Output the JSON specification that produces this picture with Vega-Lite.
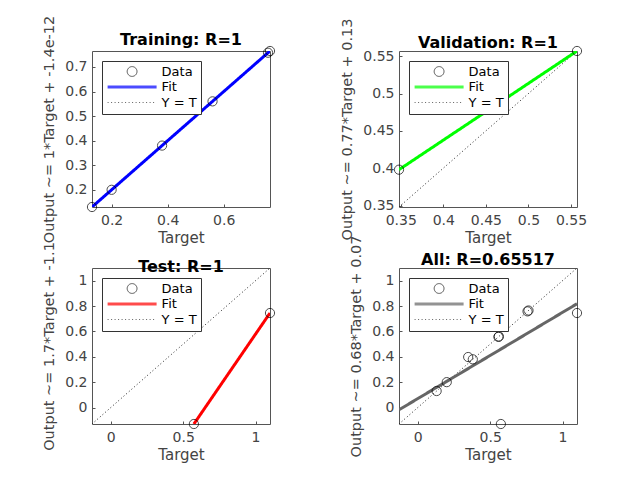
{
  "$schema": "https://vega.github.io/schema/vega-lite/v6.json",
  "background": "white",
  "padding": {"left": 41, "top": 14, "right": 5, "bottom": 5},
  "columns": 2,
  "spacing": {"row": 61, "column": 129},
  "bounds": "flush",
  "resolve": {
    "scale": {"x": "independent", "y": "independent", "color": "independent", "shape": "independent", "strokeDash": "independent", "strokeWidth": "independent"},
    "legend": {"color": "independent", "shape": "independent", "strokeDash": "independent", "strokeWidth": "independent"}
  },
  "concat": [
    {
      "width": 178, "height": 156,
      "title": "Training: R=1",
      "layer": [
        {
          "data": {"values": [
            {"series": "Y = T", "t": 0.13, "o": 0.13}, {"series": "Y = T", "t": 0.765, "o": 0.765},
            {"series": "Fit", "t": 0.13, "o": 0.13}, {"series": "Fit", "t": 0.765, "o": 0.765}
          ]},
          "mark": {"type": "line", "clip": true},
          "encoding": {
            "x": {"field": "t", "type": "quantitative", "scale": {"domain": [0.13, 0.765], "nice": false, "zero": false}, "axis": {"title": "Target", "values": [0.2, 0.4, 0.6], "tickCount": 20, "format": ".2~f", "labelOverlap": false}},
            "y": {"field": "o", "type": "quantitative", "scale": {"domain": [0.13, 0.765], "nice": false, "zero": false}, "axis": {"title": "Output ~= 1*Target + -1.4e-12", "values": [0.2, 0.3, 0.4, 0.5, 0.6, 0.7], "tickCount": 20, "format": ".2~f", "labelOverlap": false}},
            "color": {"field": "series", "type": "nominal", "scale": {"domain": ["Data", "Fit", "Y = T"], "range": ["#000000", "#0000ff", "#222222"]}, "legend": {"title": null}},
            "strokeDash": {"field": "series", "type": "nominal", "scale": {"domain": ["Data", "Fit", "Y = T"], "range": [[1, 0], [1, 0], [1, 2.5]]}, "legend": {"title": null}},
            "strokeWidth": {"field": "series", "type": "nominal", "scale": {"type": "ordinal", "domain": ["Data", "Fit", "Y = T"], "range": [1, 3, 1]}, "legend": {"title": null}}
          }
        },
        {
          "data": {"values": [
            {"series": "Data", "t": 0.13, "o": 0.13}, {"series": "Data", "t": 0.2, "o": 0.2}, {"series": "Data", "t": 0.38, "o": 0.38},
            {"series": "Data", "t": 0.56, "o": 0.56}, {"series": "Data", "t": 0.758, "o": 0.758}, {"series": "Data", "t": 0.765, "o": 0.765}
          ]},
          "mark": {"type": "point", "filled": false, "size": 85, "clip": false},
          "encoding": {
            "x": {"field": "t", "type": "quantitative"},
            "y": {"field": "o", "type": "quantitative"},
            "color": {"field": "series", "type": "nominal", "scale": {"domain": ["Data", "Fit", "Y = T"], "range": ["#000000", "#0000ff", "#222222"]}, "legend": {"title": null}},
            "shape": {"field": "series", "type": "nominal", "scale": {"domain": ["Data", "Fit", "Y = T"], "range": ["circle", "M-5,0H5", "M-5,0H5"]}, "legend": {"title": null}},
            "strokeWidth": {"field": "series", "type": "nominal", "scale": {"type": "ordinal", "domain": ["Data", "Fit", "Y = T"], "range": [1, 3, 1]}, "legend": {"title": null}}
          }
        }
      ]
    },
    {
      "width": 178, "height": 156,
      "title": "Validation: R=1",
      "layer": [
        {
          "data": {"values": [
            {"series": "Y = T", "t": 0.348, "o": 0.348}, {"series": "Y = T", "t": 0.557, "o": 0.557},
            {"series": "Fit", "t": 0.348, "o": 0.398}, {"series": "Fit", "t": 0.557, "o": 0.557}
          ]},
          "mark": {"type": "line", "clip": true},
          "encoding": {
            "x": {"field": "t", "type": "quantitative", "scale": {"domain": [0.348, 0.557], "nice": false, "zero": false}, "axis": {"title": "Target", "values": [0.35, 0.4, 0.45, 0.5, 0.55], "tickCount": 20, "format": ".2~f", "labelOverlap": false}},
            "y": {"field": "o", "type": "quantitative", "scale": {"domain": [0.348, 0.557], "nice": false, "zero": false}, "axis": {"title": "Output ~= 0.77*Target + 0.13", "values": [0.35, 0.4, 0.45, 0.5, 0.55], "tickCount": 20, "format": ".2~f", "labelOverlap": false}},
            "color": {"field": "series", "type": "nominal", "scale": {"domain": ["Data", "Fit", "Y = T"], "range": ["#000000", "#00ff00", "#222222"]}, "legend": {"title": null}},
            "strokeDash": {"field": "series", "type": "nominal", "scale": {"domain": ["Data", "Fit", "Y = T"], "range": [[1, 0], [1, 0], [1, 2.5]]}, "legend": {"title": null}},
            "strokeWidth": {"field": "series", "type": "nominal", "scale": {"type": "ordinal", "domain": ["Data", "Fit", "Y = T"], "range": [1, 3, 1]}, "legend": {"title": null}}
          }
        },
        {
          "data": {"values": [
            {"series": "Data", "t": 0.348, "o": 0.398}, {"series": "Data", "t": 0.557, "o": 0.557}
          ]},
          "mark": {"type": "point", "filled": false, "size": 85, "clip": false},
          "encoding": {
            "x": {"field": "t", "type": "quantitative"},
            "y": {"field": "o", "type": "quantitative"},
            "color": {"field": "series", "type": "nominal", "scale": {"domain": ["Data", "Fit", "Y = T"], "range": ["#000000", "#00ff00", "#222222"]}, "legend": {"title": null}},
            "shape": {"field": "series", "type": "nominal", "scale": {"domain": ["Data", "Fit", "Y = T"], "range": ["circle", "M-5,0H5", "M-5,0H5"]}, "legend": {"title": null}},
            "strokeWidth": {"field": "series", "type": "nominal", "scale": {"type": "ordinal", "domain": ["Data", "Fit", "Y = T"], "range": [1, 3, 1]}, "legend": {"title": null}}
          }
        }
      ]
    },
    {
      "width": 178, "height": 156,
      "title": "Test: R=1",
      "layer": [
        {
          "data": {"values": [
            {"series": "Y = T", "t": -0.13, "o": -0.13}, {"series": "Y = T", "t": 1.1, "o": 1.1},
            {"series": "Fit", "t": 0.574, "o": -0.13}, {"series": "Fit", "t": 1.1, "o": 0.745}
          ]},
          "mark": {"type": "line", "clip": true},
          "encoding": {
            "x": {"field": "t", "type": "quantitative", "scale": {"domain": [-0.13, 1.1], "nice": false, "zero": false}, "axis": {"title": "Target", "values": [0, 0.5, 1], "tickCount": 20, "format": ".2~f", "labelOverlap": false}},
            "y": {"field": "o", "type": "quantitative", "scale": {"domain": [-0.13, 1.1], "nice": false, "zero": false}, "axis": {"title": "Output ~= 1.7*Target + -1.1", "values": [0, 0.2, 0.4, 0.6, 0.8, 1], "tickCount": 20, "format": ".2~f", "labelOverlap": false}},
            "color": {"field": "series", "type": "nominal", "scale": {"domain": ["Data", "Fit", "Y = T"], "range": ["#000000", "#ff0000", "#222222"]}, "legend": {"title": null}},
            "strokeDash": {"field": "series", "type": "nominal", "scale": {"domain": ["Data", "Fit", "Y = T"], "range": [[1, 0], [1, 0], [1, 2.5]]}, "legend": {"title": null}},
            "strokeWidth": {"field": "series", "type": "nominal", "scale": {"type": "ordinal", "domain": ["Data", "Fit", "Y = T"], "range": [1, 3, 1]}, "legend": {"title": null}}
          }
        },
        {
          "data": {"values": [
            {"series": "Data", "t": 0.574, "o": -0.13}, {"series": "Data", "t": 1.1, "o": 0.745}
          ]},
          "mark": {"type": "point", "filled": false, "size": 85, "clip": false},
          "encoding": {
            "x": {"field": "t", "type": "quantitative"},
            "y": {"field": "o", "type": "quantitative"},
            "color": {"field": "series", "type": "nominal", "scale": {"domain": ["Data", "Fit", "Y = T"], "range": ["#000000", "#ff0000", "#222222"]}, "legend": {"title": null}},
            "shape": {"field": "series", "type": "nominal", "scale": {"domain": ["Data", "Fit", "Y = T"], "range": ["circle", "M-5,0H5", "M-5,0H5"]}, "legend": {"title": null}},
            "strokeWidth": {"field": "series", "type": "nominal", "scale": {"type": "ordinal", "domain": ["Data", "Fit", "Y = T"], "range": [1, 3, 1]}, "legend": {"title": null}}
          }
        }
      ]
    },
    {
      "width": 178, "height": 156,
      "title": "All: R=0.65517",
      "layer": [
        {
          "data": {"values": [
            {"series": "Y = T", "t": -0.13, "o": -0.13}, {"series": "Y = T", "t": 1.1, "o": 1.1},
            {"series": "Fit", "t": -0.13, "o": -0.018}, {"series": "Fit", "t": 1.1, "o": 0.818}
          ]},
          "mark": {"type": "line", "clip": true},
          "encoding": {
            "x": {"field": "t", "type": "quantitative", "scale": {"domain": [-0.13, 1.1], "nice": false, "zero": false}, "axis": {"title": "Target", "values": [0, 0.5, 1], "tickCount": 20, "format": ".2~f", "labelOverlap": false}},
            "y": {"field": "o", "type": "quantitative", "scale": {"domain": [-0.13, 1.1], "nice": false, "zero": false}, "axis": {"title": "Output ~= 0.68*Target + 0.07", "values": [0, 0.2, 0.4, 0.6, 0.8, 1], "tickCount": 20, "format": ".2~f", "labelOverlap": false}},
            "color": {"field": "series", "type": "nominal", "scale": {"domain": ["Data", "Fit", "Y = T"], "range": ["#000000", "#666666", "#222222"]}, "legend": {"title": null}},
            "strokeDash": {"field": "series", "type": "nominal", "scale": {"domain": ["Data", "Fit", "Y = T"], "range": [[1, 0], [1, 0], [1, 2.5]]}, "legend": {"title": null}},
            "strokeWidth": {"field": "series", "type": "nominal", "scale": {"type": "ordinal", "domain": ["Data", "Fit", "Y = T"], "range": [1, 3, 1]}, "legend": {"title": null}}
          }
        },
        {
          "data": {"values": [
            {"series": "Data", "t": 0.13, "o": 0.13}, {"series": "Data", "t": 0.2, "o": 0.2}, {"series": "Data", "t": 0.38, "o": 0.38},
            {"series": "Data", "t": 0.56, "o": 0.56}, {"series": "Data", "t": 0.758, "o": 0.758}, {"series": "Data", "t": 0.765, "o": 0.765},
            {"series": "Data", "t": 0.348, "o": 0.398}, {"series": "Data", "t": 0.557, "o": 0.557},
            {"series": "Data", "t": 0.574, "o": -0.13}, {"series": "Data", "t": 1.1, "o": 0.745}
          ]},
          "mark": {"type": "point", "filled": false, "size": 85, "clip": false},
          "encoding": {
            "x": {"field": "t", "type": "quantitative"},
            "y": {"field": "o", "type": "quantitative"},
            "color": {"field": "series", "type": "nominal", "scale": {"domain": ["Data", "Fit", "Y = T"], "range": ["#000000", "#666666", "#222222"]}, "legend": {"title": null}},
            "shape": {"field": "series", "type": "nominal", "scale": {"domain": ["Data", "Fit", "Y = T"], "range": ["circle", "M-5,0H5", "M-5,0H5"]}, "legend": {"title": null}},
            "strokeWidth": {"field": "series", "type": "nominal", "scale": {"type": "ordinal", "domain": ["Data", "Fit", "Y = T"], "range": [1, 3, 1]}, "legend": {"title": null}}
          }
        }
      ]
    }
  ],
  "config": {
    "font": "DejaVu Sans",
    "view": {"stroke": "#555555", "strokeWidth": 1},
    "title": {"font": "DejaVu Sans", "fontSize": 16, "fontWeight": "bold", "color": "#000000", "offset": 3, "frame": "group", "dy": 36},
    "axis": {
      "grid": false, "domain": false, "labelOverlap": false,
      "tickColor": "#555555", "tickSize": -3,
      "labelFont": "DejaVu Sans", "labelFontSize": 14, "labelColor": "#444444",
      "titleFont": "DejaVu Sans", "titleFontWeight": "normal", "titleColor": "#444444"
    },
    "axisX": {"labelPadding": 9, "titlePadding": 3, "titleFontSize": 15},
    "axisY": {"labelPadding": 8, "titlePadding": 8, "titleFontSize": 14.5},
    "legend": {
      "orient": "top-left", "offset": 10, "padding": 4,
      "strokeColor": "#333333", "fillColor": "white",
      "labelFont": "DejaVu Sans", "labelFontSize": 13, "labelColor": "#000000",
      "symbolSize": 96, "labelOffset": 23, "symbolOffset": 19.6, "rowPadding": 1.5
    }
  }
}
